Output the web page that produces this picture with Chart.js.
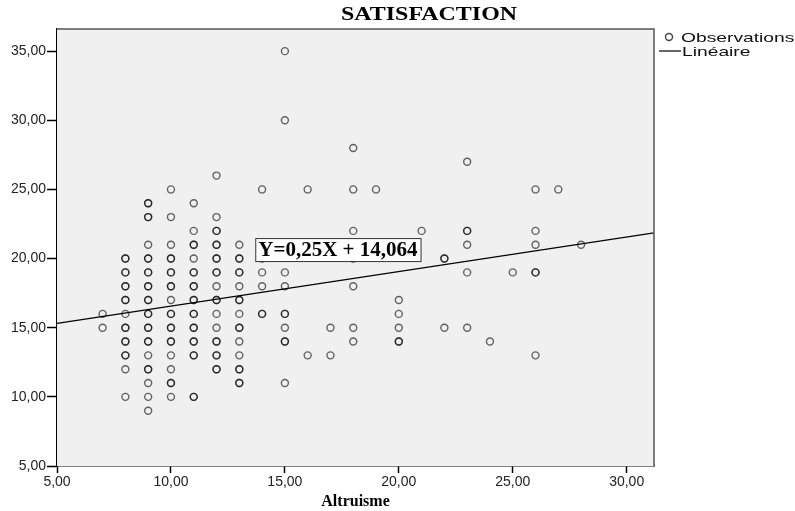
<!DOCTYPE html>
<html>
<head>
<meta charset="utf-8">
<script src="https://cdn.jsdelivr.net/npm/chart.js@4.4.1/dist/chart.umd.min.js"></script>
<style>
  html, body { margin: 0; padding: 0; background: #fff; }
  canvas { display: block; }
</style>
</head>
<body>
<canvas id="scatterChart" width="795" height="511"></canvas>
<script>
// Altruisme levels (x) and the satisfaction scores seen at each level (y).
// A value listed twice is a doubled (darker) circle in the picture.
const altruismeLevels = [7, 8, 9, 10, 11, 12, 13, 14, 15, 16, 17, 18, 19, 20, 21, 22, 23, 24, 25, 26, 27, 28];
const satisfactionByLevel = [
    [16, 15],
    [20, 20, 19, 19, 18, 18, 17, 17, 16, 15, 15, 14, 14, 13, 13, 12, 10],
    [24, 24, 23, 23, 21, 20, 20, 19, 19, 18, 18, 17, 17, 16, 16, 15, 15, 14, 14, 13, 12, 12, 11, 10, 9],
    [25, 23, 21, 20, 20, 19, 19, 18, 18, 17, 16, 16, 15, 15, 14, 14, 13, 12, 11, 11, 10],
    [24, 22, 21, 21, 20, 19, 19, 18, 18, 17, 17, 16, 16, 15, 15, 14, 14, 13, 13, 10, 10],
    [26, 23, 22, 22, 21, 21, 20, 20, 19, 19, 18, 17, 17, 16, 15, 14, 14, 13, 13, 12, 12],
    [21, 20, 20, 19, 19, 18, 17, 17, 16, 15, 15, 14, 13, 12, 12, 11, 11],
    [25, 21, 20, 19, 18, 16, 16],
    [35, 30, 19, 18, 16, 16, 15, 14, 14, 11],
    [25, 13],
    [15, 13],
    [28, 25, 22, 20, 18, 15, 14],
    [25],
    [17, 16, 15, 14, 14],
    [22],
    [20, 20, 15],
    [27, 22, 22, 21, 19, 15],
    [14],
    [19],
    [25, 22, 21, 19, 19, 13],
    [25],
    [21]
];

// Fitted line Y = a X + b
const slope = 0.25;
const intercept = 14.064;
const equationText = 'Y=0,25X + 14,064';

const xRange = [5, 31.2];
const yRange = [5, 36.6];
const tickStep = 5;

function fmtComma(v) {
    return Number(v).toFixed(2).replace('.', ',');
}

const observations = [];
altruismeLevels.forEach((lvl, i) => {
    satisfactionByLevel[i].forEach(s => observations.push({ x: lvl, y: s }));
});

const fitLine = xRange.map(x => ({ x: x, y: slope * x + intercept }));

// texte un peu étiré en largeur, comme l'image d'origine
function wideText(ctx, text, x, y, sx) {
    ctx.save();
    ctx.translate(x, y);
    ctx.scale(sx, 1);
    ctx.fillText(text, 0, 0);
    ctx.restore();
}

// fond gris de la zone de tracé + cadre haut/droite
const plotFrame = {
    id: 'plotFrame',
    beforeDatasetsDraw(chart) {
        const { ctx, chartArea: a } = chart;
        ctx.save();
        ctx.fillStyle = '#f0f0f0';
        ctx.fillRect(a.left, a.top, a.right - a.left, a.bottom - a.top);
        ctx.restore();
    },
    afterDraw(chart) {
        const { ctx, chartArea: a } = chart;
        ctx.save();
        ctx.strokeStyle = '#555';
        ctx.lineWidth = 1.5;
        ctx.beginPath();
        ctx.moveTo(a.left, a.top);
        ctx.lineTo(a.right, a.top);
        ctx.lineTo(a.right, a.bottom);
        ctx.stroke();
        ctx.restore();
    }
};

// titre, équation et légende façon SPSS
const spssDecor = {
    id: 'spssDecor',
    afterDraw(chart) {
        const { ctx, scales } = chart;
        ctx.save();

        // titre
        ctx.fillStyle = '#000';
        ctx.font = 'bold 18px "Liberation Serif", serif';
        ctx.textAlign = 'left';
        ctx.textBaseline = 'middle';
        wideText(ctx, 'SATISFACTION', 341, 15, 1.33);

        // boîte de l'équation
        const bx = scales.x.getPixelForValue(13.7);
        const by = scales.y.getPixelForValue(20.65);
        ctx.font = 'bold 21px "Liberation Serif", serif';
        const w = ctx.measureText(equationText).width + 6;
        const h = 23;
        ctx.fillStyle = '#fff';
        ctx.fillRect(bx, by - h / 2, w, h);
        ctx.strokeStyle = '#333';
        ctx.lineWidth = 1;
        ctx.strokeRect(bx + 0.5, by - h / 2 + 0.5, w, h);
        ctx.fillStyle = '#000';
        ctx.fillText(equationText, bx + 3, by + 1);

        // légende
        const ds = chart.data.datasets;
        ctx.font = '13px "Liberation Sans", Arial, sans-serif';
        ctx.fillStyle = '#111';
        ctx.strokeStyle = '#444';
        ctx.lineWidth = 1.4;
        ctx.beginPath();
        ctx.arc(669, 37, 3.5, 0, Math.PI * 2);
        ctx.stroke();
        wideText(ctx, ds[0].label, 681, 38, 1.48);
        ctx.strokeStyle = '#000';
        ctx.lineWidth = 1.2;
        ctx.beginPath();
        ctx.moveTo(659, 51);
        ctx.lineTo(681, 51);
        ctx.stroke();
        wideText(ctx, ds[1].label, 682, 52, 1.48);

        ctx.restore();
    }
};

const axisFont = { family: '"Liberation Sans", Arial, sans-serif', size: 14 };

new Chart(document.getElementById('scatterChart'), {
    type: 'scatter',
    data: {
        datasets: [{
            label: 'Observations',
            data: observations,
            pointStyle: 'circle',
            pointRadius: 3.5,
            pointBorderWidth: 1.4,
            borderColor: 'rgba(0,0,0,0.6)',
            backgroundColor: 'rgba(0,0,0,0)',
            order: 2
        }, {
            label: 'Linéaire',
            type: 'line',
            data: fitLine,
            borderColor: '#000',
            borderWidth: 1.3,
            pointRadius: 0,
            fill: false,
            order: 1
        }]
    },
    options: {
        responsive: false,
        animation: false,
        layout: { padding: { left: 10, top: 29, right: 141, bottom: 0 } },
        plugins: {
            legend: { display: false },
            title: { display: false },
            tooltip: { enabled: false }
        },
        scales: {
            x: {
                type: 'linear',
                min: xRange[0],
                max: xRange[1],
                border: { color: '#000', width: 1.5 },
                grid: { drawOnChartArea: false, tickLength: 7, tickColor: '#000', tickWidth: 1.5 },
                ticks: {
                    stepSize: tickStep,
                    includeBounds: false,
                    font: axisFont,
                    color: '#222',
                    padding: 1,
                    maxRotation: 0,
                    callback: v => fmtComma(v)
                },
                title: {
                    display: true,
                    text: 'Altruisme',
                    color: '#000',
                    font: { family: '"Liberation Serif", serif', size: 16, weight: 'bold' },
                    padding: { top: 0, bottom: 0 }
                }
            },
            y: {
                type: 'linear',
                min: yRange[0],
                max: yRange[1],
                border: { color: '#000', width: 1.5 },
                grid: { drawOnChartArea: false, tickLength: 10, tickColor: '#000', tickWidth: 1.5 },
                ticks: {
                    stepSize: tickStep,
                    includeBounds: false,
                    font: axisFont,
                    color: '#222',
                    padding: 1,
                    callback: v => fmtComma(v)
                }
            }
        }
    },
    plugins: [plotFrame, spssDecor]
});
</script>
</body>
</html>
